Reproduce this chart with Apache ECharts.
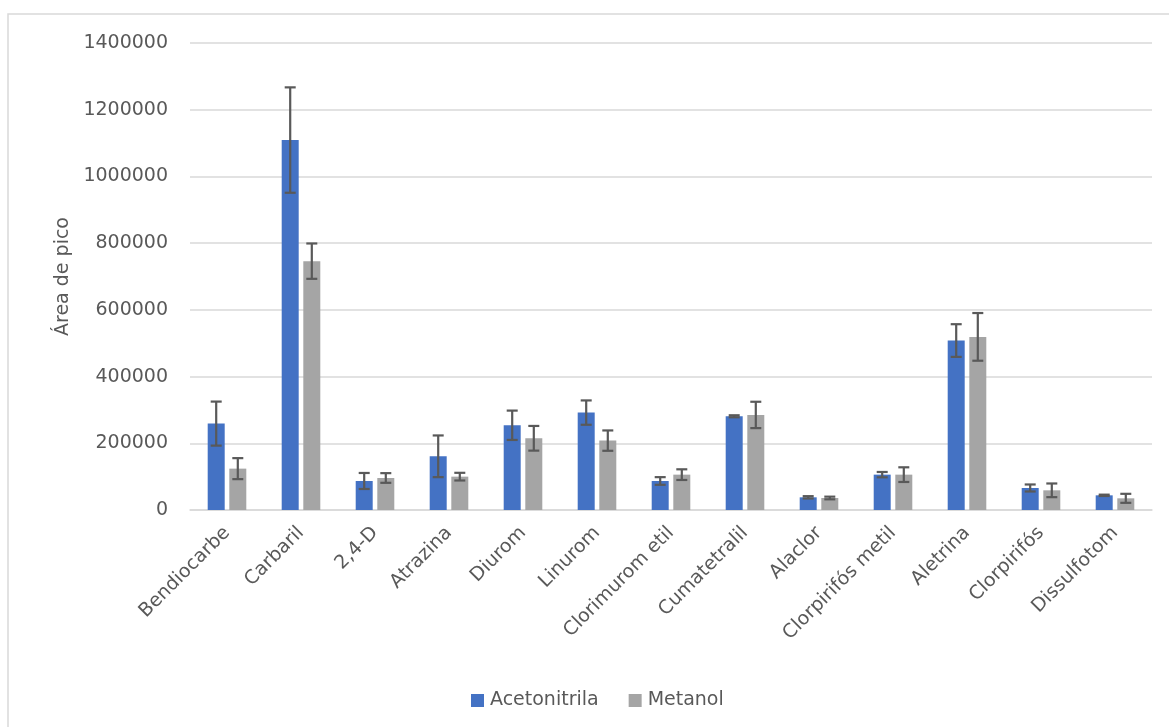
<!DOCTYPE html>
<html>
<head>
<meta charset="utf-8">
<script src="https://cdn.jsdelivr.net/npm/echarts@6/dist/echarts.min.js"></script>
<style>
  html, body { margin: 0; padding: 0; background: #ffffff; }
  #chart { width: 1169px; height: 727px; }
</style>
</head>
<body>
<div id="chart"></div>
<script>
// Pesticide peak areas by extraction solvent (mean ± SD)
const categories = ['Bendiocarbe', 'Carbaril', '2,4-D', 'Atrazina', 'Diurom', 'Linurom',
  'Clorimurom etil', 'Cumatetralil', 'Alaclor', 'Clorpirifós metil', 'Aletrina', 'Clorpirifós', 'Dissulfotom'];
const acetonitrila = [259000, 1109000, 87000, 161000, 254000, 292000, 87000, 281000, 38000, 106000, 508000, 66000, 44000];
const acetonitrilaErr = [66000, 158000, 24000, 62500, 44000, 36500, 11500, 3000, 3500, 8000, 49000, 10500, 2000];
const metanol = [124000, 746000, 96000, 100000, 215000, 208000, 106000, 285000, 36000, 106000, 519000, 59000, 35000];
const metanolErr = [31500, 53000, 14500, 11500, 37000, 30500, 16000, 39500, 4000, 22000, 71500, 20500, 13500];
const yTicks = { min: 0, max: 1400000, interval: 200000 };

const FONT = 'DejaVu Sans';
const TEXT = '#595959';
const BAR_W = 17;
const BAR_GAP = 4.6;

function errorData(values, errs) {
  return values.map((v, i) => [i, v - errs[i], v + errs[i]]);
}

function errorSeries(name, values, errs, side) {
  return {
    type: 'custom',
    name: name + ' err',
    z: 5,
    silent: true,
    data: errorData(values, errs),
    encode: { x: 0, y: [1, 2] },
    renderItem: function (params, api) {
      const i = api.value(0);
      const lo = api.coord([i, api.value(1)]);
      const hi = api.coord([i, api.value(2)]);
      const x = lo[0] + side * (BAR_W + BAR_GAP) / 2;
      const cap = 5.5;
      const style = { stroke: '#595959', lineWidth: 2.2 };
      return {
        type: 'group',
        children: [
          { type: 'line', shape: { x1: x, y1: lo[1], x2: x, y2: hi[1] }, style: style },
          { type: 'line', shape: { x1: x - cap, y1: hi[1], x2: x + cap, y2: hi[1] }, style: style },
          { type: 'line', shape: { x1: x - cap, y1: lo[1], x2: x + cap, y2: lo[1] }, style: style }
        ]
      };
    }
  };
}

const chart = echarts.init(document.getElementById('chart'), null, { renderer: 'canvas' });
chart.setOption({
  animation: false,
  backgroundColor: '#ffffff',
  textStyle: { fontFamily: FONT },
  graphic: [{
    type: 'rect',
    shape: { x: 8, y: 14, width: 1200, height: 800 },
    style: { fill: 'none', stroke: '#D9D9D9', lineWidth: 1.5 },
    silent: true
  }],
  grid: { left: 190, right: 17, top: 43, bottom: 217 },
  legend: {
    left: 466,
    top: 686,
    itemWidth: 13,
    itemHeight: 13,
    itemGap: 30,
    icon: 'rect',
    textStyle: { fontFamily: FONT, fontSize: 19, color: TEXT, padding: [0, 0, 0, 1] },
    data: ['Acetonitrila', 'Metanol']
  },
  xAxis: {
    type: 'category',
    data: categories,
    axisLine: { lineStyle: { color: '#D9D9D9', width: 1.5 } },
    axisTick: { show: false },
    axisLabel: {
      rotate: 45,
      interval: 0,
      margin: 20,
      color: TEXT,
      fontFamily: FONT,
      fontSize: 19
    }
  },
  yAxis: {
    type: 'value',
    min: yTicks.min,
    max: yTicks.max,
    interval: yTicks.interval,
    name: 'Área de pico',
    nameLocation: 'middle',
    nameRotate: 90,
    nameGap: 114,
    nameTextStyle: { fontFamily: FONT, fontSize: 19, color: TEXT },
    axisLine: { show: false },
    axisTick: { show: false },
    splitLine: { lineStyle: { color: '#D9D9D9', width: 1.5 } },
    axisLabel: {
      color: TEXT,
      fontFamily: FONT,
      fontSize: 19,
      margin: 22,
      formatter: function (v) { return String(v); }
    }
  },
  series: [
    {
      name: 'Acetonitrila',
      type: 'bar',
      data: acetonitrila,
      barWidth: BAR_W,
      barGap: (BAR_GAP / BAR_W * 100) + '%',
      itemStyle: { color: '#4472C4' }
    },
    {
      name: 'Metanol',
      type: 'bar',
      data: metanol,
      barWidth: BAR_W,
      itemStyle: { color: '#A5A5A5' }
    },
    errorSeries('Acetonitrila', acetonitrila, acetonitrilaErr, -1),
    errorSeries('Metanol', metanol, metanolErr, 1)
  ]
});
</script>
</body>
</html>
